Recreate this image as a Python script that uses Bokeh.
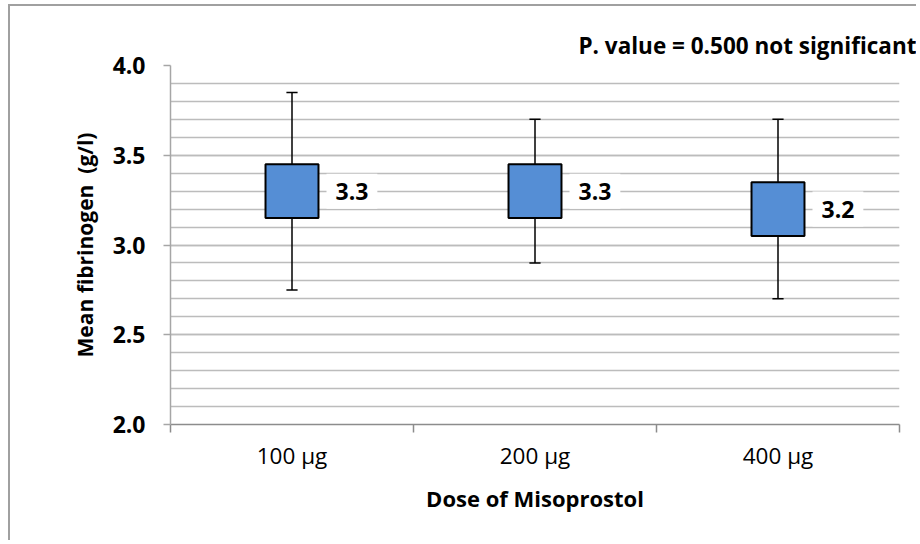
from bokeh.plotting import figure
from bokeh.models import Range1d, FixedTicker, Label, NumeralTickFormatter
from bokeh.embed import file_html
from bokeh.resources import INLINE

# ---- data ----
doses = ["100 µg", "200 µg", "400 µg"]
means = [3.3, 3.3, 3.2]
mean_labels = ["3.3", "3.3", "3.2"]
box_low = [3.15, 3.15, 3.05]
box_high = [3.45, 3.45, 3.35]
whisker_low = [2.75, 2.90, 2.70]
whisker_high = [3.85, 3.70, 3.70]
y_ticks = [2.0, 2.5, 3.0, 3.5, 4.0]
p_value_text = "P. value = 0.500 not significant"
x_title = "Dose of Misoprostol"
y_title = "Mean fibrinogen \u00a0(g/l)"

FONT = "Open Sans"
FS = "22px"

xs = [i + 0.5 for i in range(len(doses))]
bw = 0.109   # half box width (category units)
cw = 0.023   # half cap width

p = figure(width=908, height=536,
           x_range=Range1d(0, len(doses)), y_range=Range1d(2.0, 4.0),
           output_backend="svg", toolbar_location=None,
           min_border_left=160, min_border_right=19,
           min_border_top=59, min_border_bottom=118)
p.styles = {"margin-left": "8px", "margin-top": "4px",
            "border-left": "2px solid #a0a0a0", "border-top": "2px solid #a0a0a0"}
p.outline_line_color = None
p.background_fill_color = "white"
p.border_fill_color = "white"

# title used for the p-value note
p.title.text = p_value_text
p.title.align = "right"
p.title.offset = -17
p.title.standoff = 9
p.title.text_font = FONT
p.title.text_font_style = "bold"
p.title.text_font_size = "22.5px"
p.title.text_color = "black"

# y axis
minor = [round(2.0 + 0.1 * k, 1) for k in range(21)]
p.yaxis.ticker = FixedTicker(ticks=y_ticks, minor_ticks=minor)
p.yaxis.formatter = NumeralTickFormatter(format="0.0")
p.yaxis.major_tick_out = 7
p.yaxis.major_tick_in = 0
p.yaxis.minor_tick_out = 0
p.yaxis.minor_tick_in = 0
p.yaxis.axis_line_color = "#a6a6a6"
p.yaxis.axis_line_width = 1.5
p.yaxis.major_tick_line_color = "#a6a6a6"
p.yaxis.major_tick_line_width = 1.5
p.yaxis.major_label_text_font = FONT
p.yaxis.major_label_text_font_style = "bold"
p.yaxis.major_label_text_font_size = "23px"
p.yaxis.major_label_text_color = "black"
p.yaxis.major_label_standoff = 18
p.yaxis.axis_label = y_title
p.yaxis.axis_label_text_font = FONT
p.yaxis.axis_label_text_font_style = "bold"
p.yaxis.axis_label_text_font_size = "21px"
p.yaxis.axis_label_text_color = "black"
p.yaxis.axis_label_standoff = 11

# x axis
p.xaxis.ticker = FixedTicker(ticks=xs, minor_ticks=[0, 1, 2, 3])
p.xaxis.major_label_overrides = {x: d for x, d in zip(xs, doses)}
p.xaxis.major_tick_out = 0
p.xaxis.major_tick_in = 0
p.xaxis.minor_tick_out = 8
p.xaxis.minor_tick_in = 0
p.xaxis.minor_tick_line_color = "#8c8c8c"
p.xaxis.minor_tick_line_width = 1.5
p.xaxis.axis_line_color = "#8c8c8c"
p.xaxis.axis_line_width = 1.5
p.xaxis.major_label_text_font = FONT
p.xaxis.major_label_text_font_size = "22.5px"
p.xaxis.major_label_text_color = "black"
p.xaxis.major_label_standoff = 7
p.xaxis.axis_label = x_title
p.xaxis.axis_label_text_font = FONT
p.xaxis.axis_label_text_font_style = "bold"
p.xaxis.axis_label_text_font_size = FS
p.xaxis.axis_label_text_color = "black"
p.xaxis.axis_label_standoff = 9

# grid
p.xgrid.visible = False
p.ygrid.grid_line_color = "#bcbcbc"
p.ygrid.grid_line_width = 1.5
p.ygrid.minor_grid_line_color = "#bcbcbc"
p.ygrid.minor_grid_line_width = 1.5

# whiskers
p.segment(x0=xs, y0=whisker_low, x1=xs, y1=whisker_high, line_color="black", line_width=1.5)
p.segment(x0=[x - cw for x in xs], y0=whisker_high, x1=[x + cw for x in xs], y1=whisker_high,
          line_color="black", line_width=1.5)
p.segment(x0=[x - cw for x in xs], y0=whisker_low, x1=[x + cw for x in xs], y1=whisker_low,
          line_color="black", line_width=1.5)

# boxes
p.quad(left=[x - bw for x in xs], right=[x + bw for x in xs], bottom=box_low, top=box_high,
       fill_color="#558ED5", line_color="black", line_width=2)

# mean labels
for x, m, t in zip(xs, means, mean_labels):
    p.add_layout(Label(x=x + bw, y=m, x_offset=8, text=t, text_align="left",
                       text_baseline="middle", text_font=FONT, text_font_style="bold",
                       text_font_size="23px", text_color="black",
                       background_fill_color="white", padding=9))

open("out.html", "w").write(file_html(p, INLINE))
